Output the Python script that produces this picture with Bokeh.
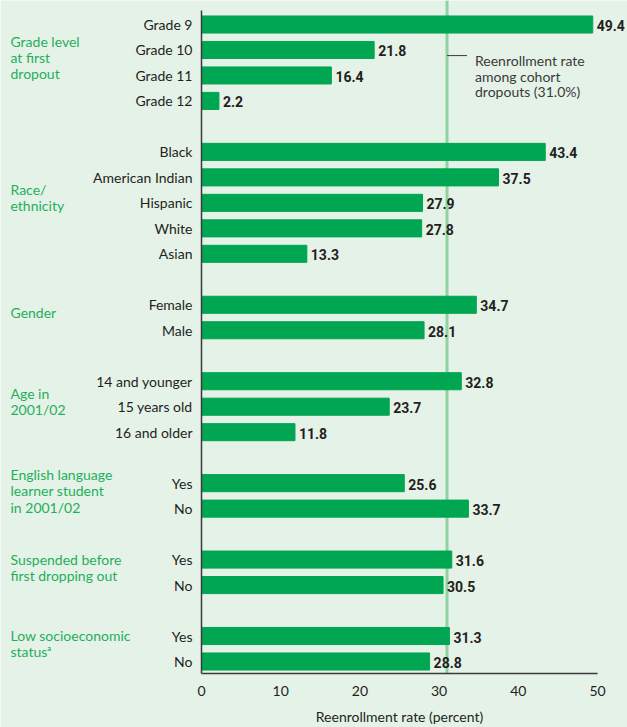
from bokeh.plotting import figure
from bokeh.models import Range1d, FixedTicker, ColumnDataSource
from bokeh.core.properties import value
from bokeh.embed import file_html
from bokeh.resources import INLINE

# ---- data ----
group_titles = ["Grade level\nat first\ndropout", "Race/\nethnicity", "Gender", "Age in\n2001/02",
                "English language\nlearner student\nin 2001/02", "Suspended before\nfirst dropping out",
                "Low socioeconomic\nstatus\u1d43"]
group_categories = [
    ["Grade 9", "Grade 10", "Grade 11", "Grade 12"],
    ["Black", "American Indian", "Hispanic", "White", "Asian"],
    ["Female", "Male"],
    ["14 and younger", "15 years old", "16 and older"],
    ["Yes", "No"],
    ["Yes", "No"],
    ["Yes", "No"],
]
group_values = [
    [49.4, 21.8, 16.4, 2.2],
    [43.4, 37.5, 27.9, 27.8, 13.3],
    [34.7, 28.1],
    [32.8, 23.7, 11.8],
    [25.6, 33.7],
    [31.6, 30.5],
    [31.3, 28.8],
]
ref_rate = 31.0
ref_text = "Reenrollment rate\namong cohort\ndropouts (31.0%)"
x_ticks = [0, 10, 20, 30, 40, 50]
x_title = "Reenrollment rate (percent)"

BG = "#e5f2e8"
BAR = "#00a651"
GRP = "#1faf5b"
TXT = "#231f20"
FONT = "Lato"
BFONT = "Roboto"

rows, labels, values, group_pos = [], [], [], []
r = 0
for cats, vals in zip(group_categories, group_values):
    start = r
    for c, v in zip(cats, vals):
        rows.append(r); labels.append(c); values.append(v)
        r += 1
    group_pos.append((start + r - 1) / 2)
    r += 1
n_last = rows[-1]

# layout: one frame over the whole canvas; axes placed at fixed locations
W, H = 627, 727
px0 = 201            # canvas x of value 0
ppu = 7.92           # pixels per unit
row_px = 25.48       # pixels per row
row0 = 24            # canvas y of first row
x_start = -px0 / ppu
x_end = (W - px0) / ppu
y_top = -row0 / row_px
y_bot = (H - row0) / row_px
x_axis_row = n_last + 12 / row_px
y_axis_top = -14 / row_px

p = figure(width=W, height=H, output_backend="svg", toolbar_location=None,
           x_range=Range1d(x_start, x_end), y_range=Range1d(y_bot, y_top),
           min_border=0)
p.background_fill_color = BG
p.border_fill_color = BG
p.outline_line_color = None
p.xgrid.grid_line_color = None
p.ygrid.grid_line_color = None

p.segment(x0=[ref_rate], x1=[ref_rate], y0=[y_top], y1=[x_axis_row],
          line_color="#8fd3a0", line_width=3)

src = ColumnDataSource(dict(y=rows, v=values, t=[f"{v:.1f}" for v in values]))
p.hbar(y="y", right="v", left=0, height=0.67, color=BAR, source=src)
p.text(x="v", y="y", text="t", source=src, x_offset=4, y_offset=1,
       text_baseline="middle", text_font=value(BFONT), text_font_style="bold",
       text_font_size="14px", text_color=TXT)

# x axis
xa = p.xaxis[0]
xa.fixed_location = x_axis_row
xa.bounds = (0, 50)
xa.ticker = FixedTicker(ticks=x_ticks)
xa.major_tick_line_color = None
xa.minor_tick_line_color = None
xa.axis_line_color = "#3a3a3a"
xa.axis_line_width = 1.5
xa.major_label_text_font = FONT
xa.major_label_text_font_size = "14px"
xa.major_label_text_color = TXT
xa.major_label_standoff = 6
xa.axis_label = x_title
xa.axis_label_text_font = FONT
xa.axis_label_text_font_size = "14px"
xa.axis_label_text_font_style = "normal"
xa.axis_label_text_color = TXT
xa.axis_label_standoff = 9

# y axis
ya = p.yaxis[0]
ya.fixed_location = 0
ya.bounds = (y_axis_top, x_axis_row)
ya.ticker = FixedTicker(ticks=rows)
ya.major_label_overrides = {rr: lab for rr, lab in zip(rows, labels)}
ya.major_tick_line_color = None
ya.minor_tick_line_color = None
ya.axis_line_color = "#3a3a3a"
ya.axis_line_width = 1.5
ya.major_label_text_font = FONT
ya.major_label_text_font_size = "14px"
ya.major_label_text_color = TXT
ya.major_label_standoff = 3

# group labels
p.text(x=[x_start] * len(group_titles), y=group_pos, text=group_titles,
       x_offset=10, y_offset=-5, text_baseline="middle", text_align="left",
       text_font=value(FONT), text_font_size="14px", text_color=GRP,
       text_line_height=0.95)

# reference annotation
p.segment(x0=[ref_rate], x1=[ref_rate + 20 / ppu], y0=[1.22], y1=[1.22],
          line_color="#3a3a3a", line_width=1)
p.text(x=[ref_rate], y=[1], text=[ref_text], x_offset=28, y_offset=2,
       text_baseline="top", text_align="left", text_font=value(FONT),
       text_font_size="14px", text_color="#3a3a3a", text_line_height=0.92)

open("out.html", "w").write(file_html(p, INLINE))
